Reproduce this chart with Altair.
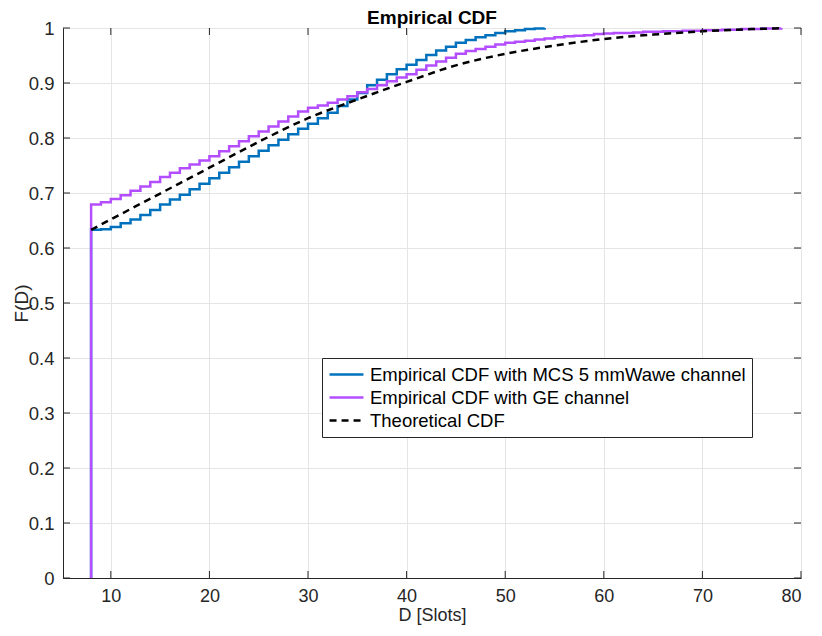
import altair as alt
import pandas as pd

# ---- data ----
blue_D = list(range(8, 55))
blue_F = [0.633, 0.634, 0.638, 0.645, 0.652, 0.660, 0.669, 0.679, 0.688, 0.697,
          0.707, 0.717, 0.727, 0.737, 0.747, 0.757, 0.767, 0.777, 0.787, 0.797,
          0.807, 0.817, 0.826, 0.836, 0.846, 0.858, 0.870, 0.882, 0.896, 0.906,
          0.916, 0.925, 0.933, 0.942, 0.951, 0.959, 0.966, 0.973, 0.978, 0.983,
          0.987, 0.991, 0.994, 0.996, 0.998, 0.999, 1.000]

purple_D = list(range(8, 79))
purple_F = [0.679, 0.683, 0.689, 0.696, 0.704, 0.712, 0.720, 0.729, 0.737, 0.745,
            0.752, 0.759, 0.767, 0.776, 0.785, 0.794, 0.803, 0.812, 0.821, 0.830,
            0.839, 0.848, 0.855, 0.859, 0.864, 0.870, 0.876, 0.883, 0.889, 0.896,
            0.903, 0.910, 0.916, 0.924, 0.932, 0.939, 0.946, 0.953, 0.958, 0.962,
            0.966, 0.970, 0.973, 0.975, 0.977, 0.979, 0.981, 0.983, 0.985, 0.986,
            0.987, 0.989, 0.990, 0.991, 0.991, 0.992, 0.993, 0.993, 0.994, 0.994,
            0.995, 0.995, 0.996, 0.996, 0.997, 0.997, 0.998, 0.998, 0.999, 0.999,
            1.000]

theo_D = [8, 10, 15, 20, 25, 30, 35, 40, 45, 50, 55, 60, 65, 70, 75, 78]
theo_F = [0.633, 0.652, 0.699, 0.746, 0.793, 0.836, 0.870, 0.902, 0.932, 0.953,
          0.968, 0.980, 0.988, 0.994, 0.998, 0.9995]

series_names = ["Empirical CDF with MCS 5 mmWawe channel",
                "Empirical CDF with GE channel",
                "Theoretical CDF"]
series_colors = ["#0072BD", "#B34DFF", "#000000"]
series_dash = [[1, 0], [1, 0], [7, 5]]

x_ticks = [10, 20, 30, 40, 50, 60, 70, 80]
y_ticks = [0, 0.1, 0.2, 0.3, 0.4, 0.5, 0.6, 0.7, 0.8, 0.9, 1]

W, H = 738, 550
TXT = "#262626"
FONT = "Liberation Sans"

blue_df = pd.DataFrame({"D": [blue_D[0]] + blue_D, "F": [0.0] + blue_F,
                        "series": series_names[0]})
purple_df = pd.DataFrame({"D": [purple_D[0]] + purple_D, "F": [0.0] + purple_F,
                          "series": series_names[1]})
theo_df = pd.DataFrame({"D": theo_D, "F": theo_F, "series": series_names[2]})

color = alt.Color("series:N",
                  scale=alt.Scale(domain=series_names, range=series_colors),
                  sort=series_names,
                  legend=alt.Legend(title=None, orient="none", legendX=259, legendY=330,
                                    symbolType="stroke", symbolSize=1150,
                                    symbolStrokeWidth=2.5, labelFontSize=18.5,
                                    labelFont=FONT, labelColor="#000000",
                                    labelLimit=600, rowPadding=2, clipHeight=21,
                                    strokeColor=TXT, fillColor="white",
                                    padding=6, cornerRadius=0, labelOffset=5))
dash = alt.StrokeDash("series:N",
                      scale=alt.Scale(domain=series_names, range=series_dash),
                      sort=series_names,
                      legend=alt.Legend(title=None, orient="none", legendX=259, legendY=330))

xenc = alt.X("D:Q", title="D [Slots]",
             scale=alt.Scale(domain=[5.15, 80], nice=False, zero=False),
             axis=alt.Axis(values=x_ticks, ticks=False, grid=True, labelPadding=9,
                           labelFontSize=18, titlePadding=1, titleFontSize=18))
yenc = alt.Y("F:Q", title="F(D)",
             scale=alt.Scale(domain=[0, 1], nice=False),
             axis=alt.Axis(values=y_ticks, format="~g", ticks=False, grid=True,
                           labelPadding=9, titlePadding=-3, titleFontSize=19))

base_blue = alt.Chart(blue_df).mark_line(interpolate="step-after", strokeWidth=2.5).encode(
    x=xenc, y=yenc, color=color, strokeDash=dash)
base_purple = alt.Chart(purple_df).mark_line(interpolate="step-after", strokeWidth=2.5).encode(
    x=xenc, y=yenc, color=color, strokeDash=dash)
base_theo = alt.Chart(theo_df).mark_line(interpolate="monotone", strokeWidth=2.5).encode(
    x=xenc, y=yenc, color=color, strokeDash=dash)

xt = pd.DataFrame({"D": x_ticks})
yt = pd.DataFrame({"F": y_ticks})
xtick_bottom = alt.Chart(xt).mark_rule(color=TXT, strokeWidth=1).encode(
    x=alt.X("D:Q", title="D [Slots]"), y=alt.value(H), y2=alt.value(H - 7))
xtick_top = alt.Chart(xt).mark_rule(color=TXT, strokeWidth=1).encode(
    x=alt.X("D:Q", title="D [Slots]"), y=alt.value(0), y2=alt.value(7))
ytick_left = alt.Chart(yt).mark_rule(color=TXT, strokeWidth=1).encode(
    y=alt.Y("F:Q", title="F(D)"), x=alt.value(0), x2=alt.value(7))
ytick_right = alt.Chart(yt).mark_rule(color=TXT, strokeWidth=1).encode(
    y=alt.Y("F:Q", title="F(D)"), x=alt.value(W - 7), x2=alt.value(W))

chart = alt.layer(base_blue, base_purple, base_theo,
                  xtick_bottom, xtick_top, ytick_left, ytick_right).properties(
    width=W, height=H,
    title=alt.TitleParams("Empirical CDF", fontSize=19, font=FONT, fontWeight="bold",
                          color="#000000", anchor="middle", frame="group", offset=0,
                          dy=9),
    autosize=alt.AutoSizeParams(type="none"),
    padding={"left": 55, "top": 20, "right": 13, "bottom": 50},
    background="white",
).configure_view(stroke=TXT, strokeWidth=1).configure_axis(
    labelFont=FONT, labelFontSize=18.5, labelColor=TXT,
    titleFont=FONT, titleFontSize=20, titleColor=TXT, titleFontWeight="normal",
    domainColor=TXT, gridColor="#e5e5e5", gridWidth=1,
)

chart.save("out.html", embed_options={"renderer": "svg", "actions": False})
